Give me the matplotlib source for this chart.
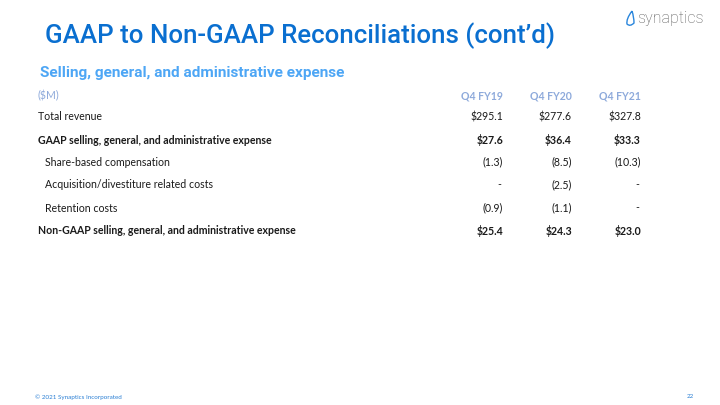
import matplotlib
matplotlib.use("Agg")
import matplotlib.pyplot as plt
from matplotlib.path import Path
from matplotlib.patches import PathPatch

TITLE = "GAAP to Non-GAAP Reconciliations (cont\u2019d)"
SUBTITLE = "Selling, general, and administrative expense"
UNIT = "($M)"
PERIODS = ["Q4 FY19", "Q4 FY20", "Q4 FY21"]

ROW_LABELS = [
    "Total revenue",
    "GAAP selling, general, and administrative expense",
    "Share-based compensation",
    "Acquisition/divestiture related costs",
    "Retention costs",
    "Non-GAAP selling, general, and administrative expense",
]
ROW_BOLD = [False, True, False, False, False, True]
ROW_INDENT = [False, False, True, True, True, False]
FY19 = ["$295.1", "$27.6", "(1.3)", "-", "(0.9)", "$25.4"]
FY20 = ["$277.6", "$36.4", "(8.5)", "(2.5)", "(1.1)", "$24.3"]
FY21 = ["$327.8", "$33.3", "(10.3)", "-", "-", "$23.0"]

W, H = 720, 405
fig = plt.figure(figsize=(W / 100, H / 100), dpi=100)
ax = fig.add_axes([0, 0, 1, 1])
ax.set_xlim(0, W)
ax.set_ylim(H, 0)
ax.axis("off")

BLUE = "#0a6fd0"
LIGHT = "#4da6f5"
HEAD = "#8eaadb"
TXT = "#1a1a1a"
FONT = "Lato"
FS = 7.6

ax.text(45, 36, TITLE, fontsize=18.6, color=BLUE, family="Roboto",
        weight="medium", va="center", ha="left")
ax.text(40, 73, SUBTITLE, fontsize=11.1, color=LIGHT, family="Roboto",
        weight="bold", va="center", ha="left")

# logo: drop outline + wordmark
drop = Path([(632, 11), (626, 19), (627, 24), (630, 27), (634, 23),
             (634, 17), (632, 11)],
            [Path.MOVETO, Path.CURVE3, Path.CURVE3, Path.CURVE3, Path.CURVE3,
             Path.CURVE3, Path.CURVE3])
ax.add_patch(PathPatch(drop, fill=False, edgecolor="#2a86dc", lw=1.0))
ax.text(637, 19, "synaptics", fontsize=11.5, color="#5a5a5a", family="Roboto",
        weight="light", va="center", ha="left")

col_x = [503, 572, 641]
ax.text(38, 96, UNIT, fontsize=FS, color=HEAD, family=FONT, va="center")
for x, p in zip(col_x, PERIODS):
    ax.text(x, 96, p, fontsize=FS, color=HEAD, family=FONT, weight="bold",
            ha="right", va="center")

row_y = [117, 140, 162, 185, 208, 231]
for i, label in enumerate(ROW_LABELS):
    y = row_y[i]
    w = "bold" if ROW_BOLD[i] else "normal"
    x0 = 45 if ROW_INDENT[i] else 38
    ax.text(x0, y, label, fontsize=FS, color=TXT, family=FONT, weight=w,
            va="center")
    for x, vals in zip(col_x, [FY19, FY20, FY21]):
        v = vals[i]
        ax.text(x - (2 if v == "-" else 0), y, v, fontsize=FS, color=TXT,
                family=FONT, weight=w, ha="right", va="center")

ax.text(35, 397, "\u00a9 2021 Synaptics Incorporated", fontsize=4.5,
        color="#2a7fd4", family=FONT, va="center")
ax.text(694, 397, "22", fontsize=4.5, color="#2a7fd4", family=FONT,
        va="center", ha="right")

fig.savefig("out.png", dpi=100)
